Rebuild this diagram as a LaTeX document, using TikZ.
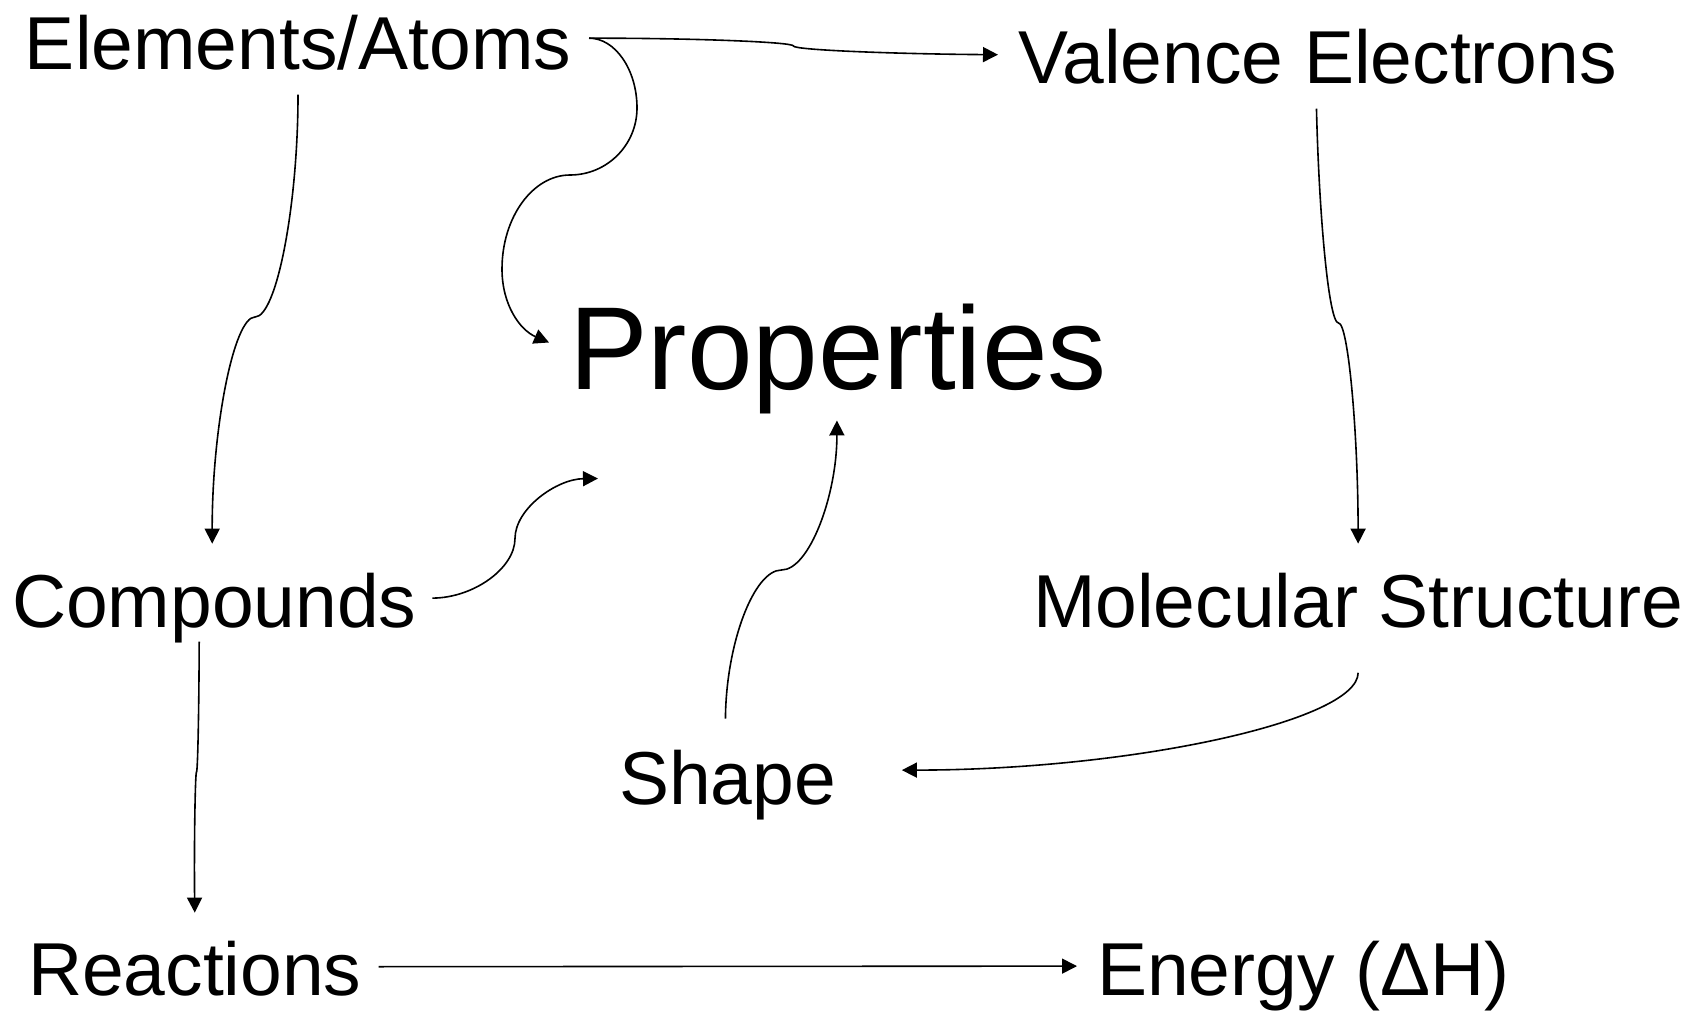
\documentclass[tikz,border=0pt]{standalone}
\usepackage{fontspec}
\setmainfont{Liberation Sans}
\usetikzlibrary{arrows.meta,calc}
\begin{document}
\begin{tikzpicture}[x=0.5pt,y=-0.5pt,
  lbl/.style={inner sep=0pt, outer sep=0pt, anchor=base west, font=\fontsize{37.5}{45}\selectfont},
  big/.style={inner sep=0pt, outer sep=0pt, anchor=base west, font=\fontsize{59}{71}\selectfont},
  conn/.style={line width=0.8pt, -{Triangle[length=7.5pt,width=7.5pt]}}]
\useasboundingbox (0,0) rectangle (1686,1011);
\node[lbl] (elem) at (25,70) {Elements/Atoms};
\node[lbl] (valence) at (1018,84) {Valence Electrons};
\node[big] (props) at (569,389) {Properties};
\node[lbl] (comp) at (12,627) {Compounds};
\node[lbl] (molec) at (1033,627) {Molecular Structure};
\node[lbl] (shp) at (619,804) {Shape};
\node[lbl] (react) at (28,995) {Reactions};
\node[lbl] (energy) at (1097,995) {Energy (Δ{}H)};
% Elements -> Valence
\draw[conn] ($(elem.east)+(18,-5)$) .. controls (691,38) and (793.5,42) .. (793.5,46)
  .. controls (793.5,50) and (895.75,54) .. ($(valence.west)+(-20,-2.5)$);
% Elements -> Properties (loop)
\draw[conn] ($(elem.east)+(18,-5)$) .. controls (615,38) and (637,69.5) .. (637,108)
  .. controls (637,145) and (607,175) .. (570,175)
  .. controls (533,175) and (502,217) .. (502,269)
  .. controls (502,305) and (520,330) .. ($(props.west)+(-20,-16)$);
% Elements -> Compounds
\draw[conn] ($(elem.south)+(0,24)$) .. controls (298,206) and (276.5,317) .. (255,317)
  .. controls (233.5,317) and (212,430) .. ($(comp.north)+(-2,-29)$);
% Valence -> Molecular
\draw[conn] ($(valence.south)+(-1,24)$) .. controls (1319,215.5) and (1328.75,323) .. (1338.5,323)
  .. controls (1348.25,323) and (1358,433) .. ($(molec.north)+(0,-29)$);
% Compounds -> Reactions
\draw[conn] ($(comp.south)+(-15,-1)$) .. controls (199,707) and (197.75,772) .. (196.5,772)
  .. controls (195.25,772) and (194,842) .. ($(react.north)+(0,-28)$);
% Compounds -> Properties
\draw[conn] ($(comp.east)+(16,-9.5)$) .. controls (473.5,598) and (515,568.25) .. (515,538.5)
  .. controls (515,508.75) and (556.5,479) .. ($(props.south west)+(29,65)$);
% Shape -> Properties
\draw[conn] ($(shp.north)+(-2,-31)$) .. controls (726,644) and (753.75,570) .. (781.5,570)
  .. controls (809.25,570) and (837,495.5) .. ($(props.south)+(-1,7)$);
% Molecular -> Shape
\draw[conn] ($(molec.south)+(0,45)$) .. controls (1358,721) and (1130.5,770) .. ($(shp.east)+(66,-14.5)$);
% Reactions -> Energy
\draw[conn] ($(react.east)+(17,-1.5)$) -- ($(energy.west)+(-20,-9.5)$);
\end{tikzpicture}
\end{document}
